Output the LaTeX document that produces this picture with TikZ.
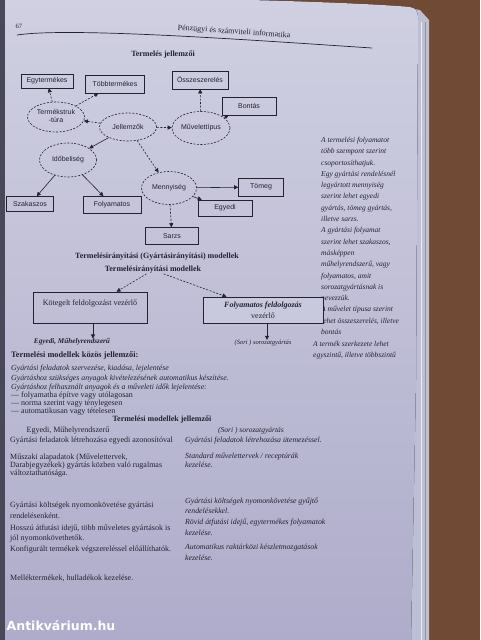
\documentclass[tikz,border=0pt]{standalone}
\usepackage{fontspec}
\setmainfont{Liberation Serif}
\newfontfamily\diafont{Liberation Sans}
\newfontfamily\wmfont{DejaVu Sans}
\usetikzlibrary{shapes.geometric}
\usetikzlibrary{arrows.meta}
\definecolor{paper}{RGB}{208,208,226}
\definecolor{paperlow}{RGB}{174,172,202}
\definecolor{wood}{RGB}{112,74,52}
\definecolor{pageedge}{RGB}{188,192,212}
\definecolor{bookdark}{RGB}{72,72,88}
\definecolor{ink}{RGB}{34,34,48}
\newcommand{\inell}[1]{\makebox[0pt]{#1}}

\tikzset{
  dsh/.style={dash pattern=on 2pt off 1.5pt},
  ell/.style={draw=ink, dsh, ellipse, inner sep=0pt, line width=0.6pt, text=ink, font=\diafont\fontsize{7}{8}\selectfont},
  bx/.style={draw=ink, rectangle, inner sep=0pt, line width=0.6pt, text=ink, font=\diafont\fontsize{7}{8}\selectfont},
  tip/.style={-{Triangle[length=4pt,width=4pt]}, ink, line width=0.6pt},
  ln/.style={anchor=west, inner sep=0pt, text=ink, font=\fontsize{8}{9}\selectfont},
  lni/.style={ln, font=\itshape\fontsize{7.8}{9}\selectfont},
  ttl/.style={inner sep=0pt, text=ink, font=\bfseries\fontsize{8}{9}\selectfont},
}

\begin{document}
\begin{tikzpicture}[x=1pt,y=-1pt]
    \useasboundingbox (0,0) rectangle (480,640);
    % desk, page edges and page
    \fill[wood] (0,0) rectangle (480,640);
    \fill[pageedge] (408,8) -- (420,10) -- (429,20) -- (429,640) -- (406,640) -- cycle;
    \draw[white!70!pageedge, line width=1pt] (421,22) -- (421,640);
    \draw[gray!70!pageedge] (425,22) -- (425,640);
    \fill[top color=paper, bottom color=paperlow] (0,0) -- (250,0) .. controls (330,2) and (390,5) .. (410,7) .. controls (416,8) and (418,12) .. (418,18) -- (416,380) -- (411,640) -- (0,640) -- cycle;
    \fill[bookdark] (0,0) rectangle (5,640);

    % header
    \node[inner sep=0pt, text=ink, font=\fontsize{6.5}{7}\selectfont] (pgno) at (19,26) {67};
    \node[rotate=-4, inner sep=0pt, text=ink, font=\fontsize{8}{9}\selectfont] (hdr) at (234,32) {Pénzügyi és számviteli informatika};
    \draw[ink, line width=0.7pt] (17,35) .. controls (70,27) and (250,40) .. (372,48);

    \node[ttl] (ttl1) at (163,55) {Termelés jellemzői};

    % characteristics diagram
    \node[ell, minimum width=57, minimum height=30] (trm) at (56,117) {\inell{\begin{tabular}{@{}c@{}}Termékstruk\\-túra\end{tabular}}};
    \node[ell, minimum width=57, minimum height=28] (jel) at (128,127) {\inell{Jellemzők}};
    \node[ell, minimum width=58, minimum height=33] (mvt) at (201,128) {\inell{Művelettípus}};
    \node[ell, minimum width=57, minimum height=34] (idb) at (68,160) {\inell{Időbeliség}};
    \node[ell, minimum width=55, minimum height=33] (mny) at (169,188) {\inell{Mennyiség}};

    \node[bx, minimum width=52, minimum height=14] (egy1) at (47,81) {Egytermékes};
    \node[bx, minimum width=59, minimum height=18] (tob) at (115,84) {Többtermékes};
    \node[bx, minimum width=56, minimum height=18] (osz) at (200,80) {Összeszerelés};
    \node[bx, minimum width=54, minimum height=18] (bon) at (249,106) {Bontás};
    \node[bx, minimum width=47, minimum height=15] (szk) at (30,204) {Szakaszos};
    \node[bx, minimum width=58, minimum height=17] (fly) at (112,205) {Folyamatos};
    \node[bx, minimum width=45, minimum height=18] (tom) at (261,187) {Tömeg};
    \node[bx, minimum width=54, minimum height=16] (egd) at (225,208) {Egyedi};
    \node[bx, minimum width=53, minimum height=17] (srz) at (172,236) {Sarzs};

    \draw[tip, dsh] (trm) -- (egy1);
    \draw[tip, dsh] (trm) -- (tob);
    \draw[tip, dsh] (jel) -- (trm);
    \draw[tip, dsh] (jel) -- (mvt);
    \draw[tip] (jel) -- (idb);
    \draw[tip, dsh] (jel) -- (mny);
    \draw[tip, dsh] (mvt) -- (osz);
    \draw[tip] (mvt) -- (bon);
    \draw[tip] (idb) -- (szk);
    \draw[tip] (idb) -- (fly);
    \draw[tip] (mny) -- (tom);
    \draw[tip] (mny) -- (egd);
    \draw[tip, dsh] (mny) -- (srz);

    % side notes
    \node[anchor=north west, inner sep=0pt, align=left, text=ink, font=\itshape\fontsize{7.5}{11.3}\selectfont] (side1) at (321,137) {A termelési folyamatot\\több szempont szerint\\csoportosíthatjuk.\\Egy gyártási rendelésnél\\legyártott mennyiség\\szerint lehet egyedi\\gyártás, tömeg gyártás,\\illetve sarzs.\\A gyártási folyamat\\szerint lehet szakaszos,\\másképpen\\műhelyrendszerű, vagy\\folyamatos, amit\\sorozatgyártásnak is\\nevezzük.\\A művelet típusa szerint\\lehet összeszerelés, illetve\\bontás};
    \node[anchor=north west, inner sep=0pt, align=left, text=ink, font=\itshape\fontsize{7.5}{11.3}\selectfont] (side2) at (313,341) {A termék szerkezete lehet\\egyszintű, illetve többszintű};

    % control models
    \node[ttl] (ttl2) at (157,257) {Termelésirányítási (Gyártásirányítási) modellek};
    \node[ttl] (ttl3) at (153,270) {Termelésirányítási modellek};
    \node[draw=ink, line width=0.6pt, minimum width=114, minimum height=31, inner sep=0pt, text depth=9.5pt, text=ink, font=\fontsize{8}{9}\selectfont] (kbox) at (90,307.5) {Kötegelt feldolgozást vezérlő};
    \node[draw=ink, fill=paper!80!paperlow, line width=0.6pt, minimum width=120, minimum height=26, inner sep=0pt, align=center, text=ink, font=\fontsize{8}{10.5}\selectfont] (fbox) at (263,310) {\textbf{\textit{Folyamatos feldolgozás}}\\vezérlő};
    \node[inner sep=0pt, text=ink, font=\bfseries\itshape\fontsize{7.2}{8}\selectfont] (eg1) at (72,342) {Egyedi, Műhelyrendszerű};
    \node[inner sep=0pt, text=ink, font=\itshape\fontsize{6.5}{8}\selectfont] (sor1) at (263,343) {(Sori ) sorozatgyártás};
    \draw[tip, dsh] (ttl3) -- (kbox);
    \draw[tip, dsh] (ttl3) -- (fbox);
    \draw[tip] (kbox.south) ++(3,0) coordinate (kb) -- (kb |- eg1.north);
    \draw[tip] (fbox.south) ++(4,0) coordinate (fb) -- (fb |- sor1.north);

    % common features
    \node[ttl, anchor=west, font=\bfseries\fontsize{8.3}{9}\selectfont] (kz) at (11,355) {Termelési modellek közös jellemzői:};
    \node[lni] (k1) at (11,369) {Gyártási feladatok szervezése, kiadása, lejelentése};
    \node[lni] (k2) at (11,379) {Gyártáshoz szükséges anyagok kivételezésének automatikus készítése.};
    \node[lni] (k3) at (11,388) {Gyártáshoz felhasznált anyagok és a műveleti idők lejelentése:};
    \node[ln] (k4) at (11,396) {— folyamatba építve vagy utólagosan};
    \node[ln] (k5) at (11,404) {— norma szerint vagy ténylegesen};
    \node[ln] (k6) at (11,412) {— automatikusan vagy tételesen};

    % features of the models
    \node[ttl] (ttl4) at (162,420) {Termelési modellek jellemzői};
    \node[inner sep=0pt, text=ink, font=\fontsize{8}{9}\selectfont] (hd1) at (68,431) {Egyedi, Műhelyrendszerű};
    \node[inner sep=0pt, text=ink, font=\itshape\fontsize{7.5}{9}\selectfont] (hd2) at (251,431) {(Sori ) sorozatgyártás};

    \node[ln] (a1) at (10,441) {Gyártási feladatok létrehozása egyedi azonosítóval};
    \node[ln] (a2) at (10,458) {Műszaki alapadatok (Művelettervek,};
    \node[ln] (a3) at (10,466) {Darabjegyzékek) gyártás közben való rugalmas};
    \node[ln] (a4) at (10,474) {változtathatósága.};
    \node[ln] (a5) at (10,506) {Gyártási költségek nyomonkövetése gyártási};
    \node[ln] (a6) at (10,516) {rendelésenként.};
    \node[ln] (a7) at (10,529) {Hosszú átfutási idejű, több műveletes gyártások is};
    \node[ln] (a8) at (10,539) {jól nyomonkövethetők.};
    \node[ln] (a9) at (10,550) {Konfigurált termékek végszereléssel előállíthatók.};
    \node[ln] (a10) at (10,578) {Melléktermékek, hulladékok kezelése.};

    \node[lni] (b1) at (185,441) {Gyártási feladatok létrehozása ütemezéssel.};
    \node[lni] (b2) at (185,457) {Standard művelettervek / receptúrák};
    \node[lni] (b3) at (185,465) {kezelése.};
    \node[lni] (b4) at (185,502) {Gyártási költségek nyomonkövetése gyűjtő};
    \node[lni] (b5) at (185,511) {rendelésekkel.};
    \node[lni] (b6) at (185,523) {Rövid átfutási idejű, egytermékes folyamatok};
    \node[lni] (b7) at (185,533) {kezelése.};
    \node[lni] (b8) at (185,548) {Automatikus raktárközi készletmozgatások};
    \node[lni] (b9) at (185,558) {kezelése.};

    % watermark
    \node[text=white, font=\wmfont\bfseries\fontsize{12.5}{13}\selectfont] (wm) at (61,626) {Antikvárium.hu};
  \end{tikzpicture}
\end{document}
